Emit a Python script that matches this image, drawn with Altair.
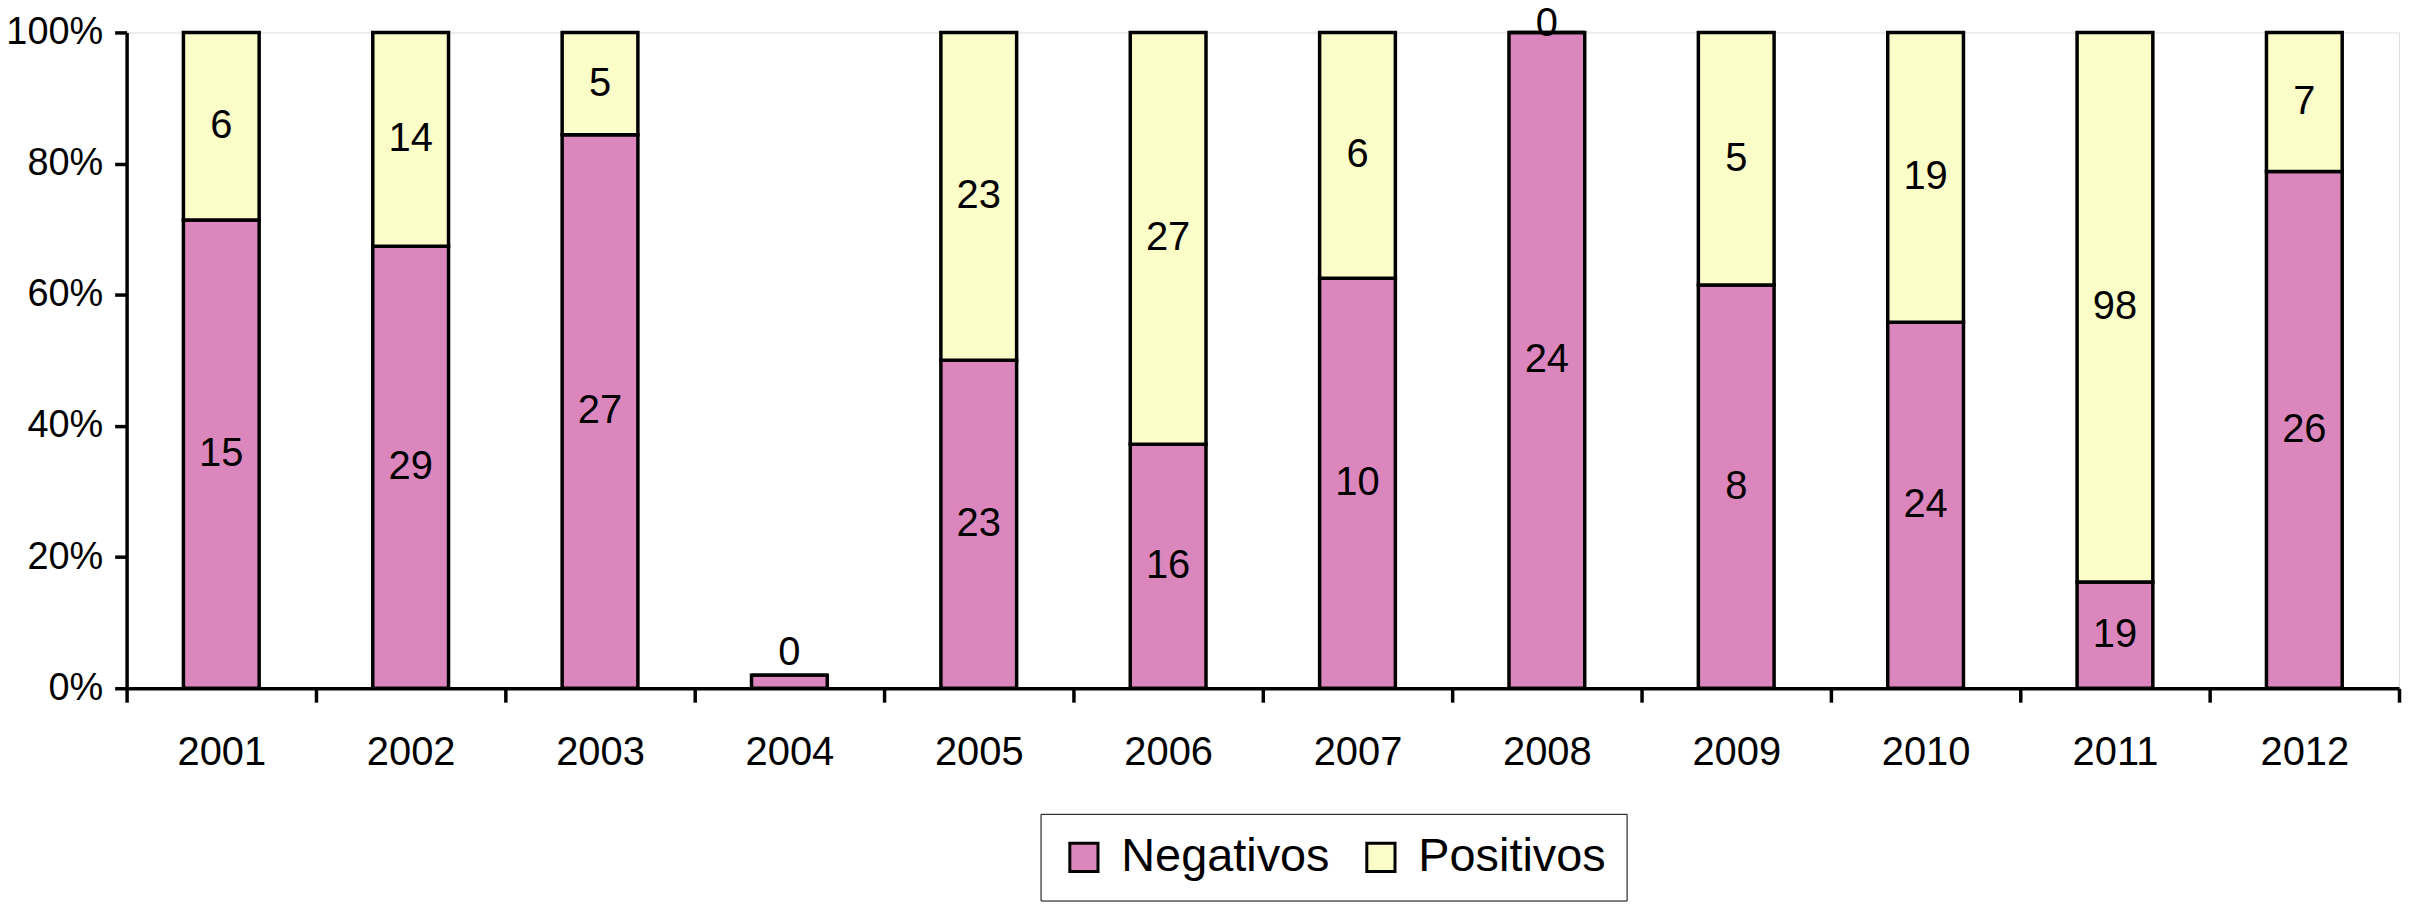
import altair as alt
import pandas as pd

years = ["2001", "2002", "2003", "2004", "2005", "2006", "2007", "2008", "2009", "2010", "2011", "2012"]
negativos = [15, 29, 27, 0, 23, 16, 10, 24, 8, 24, 19, 26]
positivos = [6, 14, 5, 0, 23, 27, 6, 0, 5, 19, 98, 7]
# percentage height of the Negativos segment as drawn (2004 drawn as a tiny bar)
neg_pct = [71.4, 67.4, 84.4, 2.0, 50.0, 37.2, 62.5, 100.0, 61.5, 55.8, 16.2, 78.8]

series = ["Negativos", "Positivos"]
colors = ["#DC86BE", "#FBFDC8"]

rows = []
for i, y in enumerate(years):
    n, p, np_ = negativos[i], positivos[i], neg_pct[i]
    pos_pct = 0.0 if (n + p) == 0 else 100.0 - np_
    rows.append(dict(year=y, serie="Negativos", count=n, y0=0.0, y1=np_,
                     mid=np_ / 2, show=(n > 0), zero=False))
    rows.append(dict(year=y, serie="Positivos", count=p, y0=np_, y1=np_ + pos_pct,
                     mid=np_ + pos_pct / 2, show=True, zero=(p == 0)))
df = pd.DataFrame(rows)

FONT = "Liberation Sans"

x_enc = alt.X("year:N", sort=years,
              scale=alt.Scale(paddingInner=0, paddingOuter=0),
              axis=alt.Axis(title=None, labelAngle=0, tickBand="extent",
                            tickSize=14, tickWidth=3.5, domainWidth=3.5,
                            domainColor="black", tickColor="black",
                            labelColor="black", labelFontSize=40,
                            labelFont=FONT, labelPadding=31))

bars = alt.Chart(df).mark_bar(stroke="black", strokeWidth=3.5,
                              width=alt.RelativeBandSize(0.4)).encode(
    x=x_enc,
    y=alt.Y("y0:Q", scale=alt.Scale(domain=[0, 100], nice=False),
            axis=alt.Axis(title=None, values=[0, 20, 40, 60, 80, 100],
                          labelExpr="datum.value + '%'", grid=False,
                          tickSize=12, tickWidth=3.5, domainWidth=3.5,
                          domainColor="black", tickColor="black",
                          labelColor="black", labelFontSize=38,
                          labelFont=FONT, labelPadding=12)),
    y2="y1:Q",
    color=alt.Color("serie:N", scale=alt.Scale(domain=series, range=colors),
                    legend=alt.Legend(title=None, orient="none", legendX=917, legendY=784,
                                      direction="horizontal", strokeColor="black",
                                      padding=20, symbolType="square", symbolSize=800,
                                      symbolStrokeColor="black", symbolStrokeWidth=3,
                                      labelFontSize=47, labelFont=FONT, labelColor="black",
                                      labelOffset=14, columnPadding=28, labelLimit=600)),
)

labels = alt.Chart(df).transform_filter(
    "datum.show && !datum.zero"
).mark_text(font=FONT, fontSize=40, color="black", baseline="middle").encode(
    x=alt.X("year:N", sort=years),
    y=alt.Y("mid:Q"),
    text="count:Q",
)

zero_top = alt.Chart(df).transform_filter(
    "datum.show && datum.zero && datum.y1 >= 100"
).mark_text(font=FONT, fontSize=40, color="black", baseline="middle", dy=-8).encode(
    x=alt.X("year:N", sort=years),
    y=alt.Y("mid:Q"),
    text="count:Q",
)

zero_low = alt.Chart(df).transform_filter(
    "datum.show && datum.zero && datum.y1 < 100"
).mark_text(font=FONT, fontSize=40, color="black", baseline="middle", dy=-22).encode(
    x=alt.X("year:N", sort=years),
    y=alt.Y("mid:Q"),
    text="count:Q",
)

chart = alt.layer(bars, labels, zero_top, zero_low).properties(
    width=2280, height=658,
    autosize=alt.AutoSizeParams(type="none"),
    padding={"left": 119, "top": 23, "right": 3, "bottom": 225},
).configure_view(stroke=None).configure(background="white")

chart.save("out.html", embed_options={"renderer": "svg", "actions": False})
